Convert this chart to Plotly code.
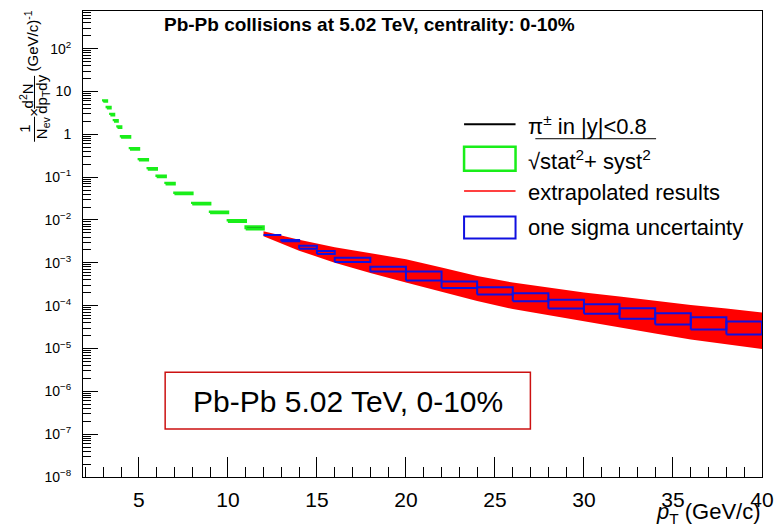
import plotly.graph_objects as go

# ---------------- data ----------------
meas_pt_lo = [3.0, 3.2, 3.4, 3.6, 3.8, 4.0, 4.5, 5.0, 5.5, 6.0, 6.5, 7.0, 8.0, 9.0, 10.0, 11.0]
meas_pt_hi = [3.2, 3.4, 3.6, 3.8, 4.0, 4.5, 5.0, 5.5, 6.0, 6.5, 7.0, 8.0, 9.0, 10.0, 11.0, 12.0]
meas_yield = [6.0, 4.2, 2.9, 2.07, 1.48, 0.87, 0.46, 0.255, 0.157, 0.104, 0.071,
              0.0417, 0.0242, 0.0150, 0.0095, 0.00655]
meas_relerr = [0.03, 0.03, 0.03, 0.03, 0.03, 0.03, 0.03, 0.03, 0.03, 0.03, 0.03,
               0.03, 0.03, 0.03, 0.035, 0.075]

band_pt = [12, 14, 16, 18, 20, 22, 24, 26, 28, 30, 32, 34, 36, 38, 40]
band_upper = [5.48e-3, 3.47e-3, 2.32e-3, 1.68e-3, 1.22e-3, 7.73e-4, 4.90e-4, 3.45e-4,
              2.64e-4, 2.04e-4, 1.63e-4, 1.28e-4, 1.03e-4, 8.55e-5, 6.90e-5]
band_lower = [4.19e-3, 1.92e-3, 1.01e-3, 5.75e-4, 3.45e-4, 2.07e-4, 1.28e-4, 8.33e-5,
              5.87e-5, 4.30e-5, 3.09e-5, 2.24e-5, 1.62e-5, 1.24e-5, 9.73e-6]

sigma_pt_lo = [12, 13, 14, 15, 16, 18, 20, 22, 24, 26, 28, 30, 32, 34, 36, 38]
sigma_pt_hi = [13, 14, 15, 16, 18, 20, 22, 24, 26, 28, 30, 32, 34, 36, 38, 40]
sigma_lower = [4.47e-3, 3.17e-3, 2.14e-3, 1.61e-3, 1.05e-3, 6.24e-4, 3.85e-4, 2.60e-4,
               1.82e-4, 1.27e-4, 8.55e-5, 6.44e-5, 4.92e-5, 3.62e-5, 2.77e-5, 2.12e-5]
sigma_upper = [4.61e-3, 3.42e-3, 2.52e-3, 1.89e-3, 1.32e-3, 8.15e-4, 6.24e-4, 3.65e-4,
               2.69e-4, 1.95e-4, 1.37e-4, 1.08e-4, 8.69e-5, 6.65e-5, 5.37e-5, 4.26e-5]

x_tick_vals = [5, 10, 15, 20, 25, 30, 35, 40]
y_tick_vals = [1e-8, 1e-7, 1e-6, 1e-5, 1e-4, 1e-3, 1e-2, 1e-1, 1, 10, 100]
y_tick_text = ["10<sup>−8</sup>", "10<sup>−7</sup>", "10<sup>−6</sup>", "10<sup>−5</sup>",
               "10<sup>−4</sup>", "10<sup>−3</sup>", "10<sup>−2</sup>", "10<sup>−1</sup>",
               "1", "10", "10<sup>2</sup>"]

title_text = "Pb-Pb collisions at 5.02 TeV, centrality: 0-10%"
box_text = "Pb-Pb 5.02 TeV, 0-10%"
legend_labels = ["π<sup>±</sup> in |y|&lt;0.8", "√stat<sup>2</sup>+ syst<sup>2</sup>",
                 "extrapolated results", "one sigma uncertainty"]

# ---------------- layout helpers ----------------
W, H = 784, 528
ML, MR, MT, MB = 83, 15, 10, 51
PW, PH = W - ML - MR, H - MT - MB
FONT = "Liberation Sans, Arial, sans-serif"


def px(x):
    return (x - ML) / PW


def py(y):
    return 1 - (y - MT) / PH


def rects(x0s, x1s, y0s, y1s):
    xs, ys = [], []
    for a, b, c, d in zip(x0s, x1s, y0s, y1s):
        xs += [a, b, b, a, a, None]
        ys += [c, c, d, d, c, None]
    return xs, ys


fig = go.Figure()

# red extrapolated band
fig.add_trace(go.Scatter(
    x=band_pt + band_pt[::-1], y=band_upper + band_lower[::-1],
    fill="toself", fillcolor="#ff0000", mode="lines", line=dict(width=0, color="#ff0000"),
    hoverinfo="skip", showlegend=False))

# black data lines (horizontal bin lines)
bx, by = [], []
for a, b, v in zip(meas_pt_lo, meas_pt_hi, meas_yield):
    bx += [a, b, None]
    by += [v, v, None]
fig.add_trace(go.Scatter(x=bx, y=by, mode="lines", line=dict(color="black", width=1.5),
                         showlegend=False, hoverinfo="skip"))

# green uncertainty boxes
gx, gy = rects(meas_pt_lo, meas_pt_hi,
               [v * (1 - e) for v, e in zip(meas_yield, meas_relerr)],
               [v * (1 + e) for v, e in zip(meas_yield, meas_relerr)])
fig.add_trace(go.Scatter(x=gx, y=gy, mode="lines", line=dict(color="#19ee19", width=2.6),
                         showlegend=False, hoverinfo="skip"))

# blue one sigma boxes
sx, sy = rects(sigma_pt_lo, sigma_pt_hi, sigma_lower, sigma_upper)
fig.add_trace(go.Scatter(x=sx, y=sy, mode="lines", line=dict(color="#1010e0", width=2),
                         showlegend=False, hoverinfo="skip"))

# minor tick positions for log axis
y_minor = []
for k in range(-8, 3):
    for m in range(2, 10):
        y_minor.append(m * 10.0 ** k)

fig.update_layout(
    width=W, height=H, margin=dict(l=ML, r=MR, t=MT, b=MB),
    paper_bgcolor="white", plot_bgcolor="white",
    font=dict(family=FONT, color="black"),
    showlegend=False,
    xaxis=dict(range=[1.86, 40], tickmode="array", tickvals=x_tick_vals,
               ticks="inside", ticklen=20, tickwidth=1, tickcolor="black",
               tickfont=dict(size=21, family=FONT), ticklabelstandoff=4,
               showline=True, linecolor="black", linewidth=1, mirror=True,
               showgrid=False, zeroline=False,
               minor=dict(ticks="inside", ticklen=10, tickwidth=1, tickcolor="black",
                          dtick=1, tick0=0, showgrid=False)),
    yaxis=dict(type="log", range=[-8, 2.879], tickmode="array", tickvals=y_tick_vals,
               ticktext=y_tick_text, ticks="inside", ticklen=15, tickwidth=1,
               tickcolor="black", tickfont=dict(size=14, family=FONT),
               ticklabelstandoff=8,
               showline=True, linecolor="black", linewidth=1, mirror=True,
               showgrid=False, zeroline=False,
               minor=dict(ticks="inside", ticklen=8, tickwidth=1, tickcolor="black",
                          tickmode="array", tickvals=y_minor, showgrid=False)),
)

shapes = []
annots = []

# title
annots.append(dict(text="<b>" + title_text + "</b>", x=px(163), y=py(24), xref="paper",
                   yref="paper", xanchor="left", yanchor="middle", showarrow=False,
                   font=dict(size=19, family=FONT)))

# boxed label
shapes.append(dict(type="rect", xref="paper", yref="paper", x0=px(166), x1=px(535),
                   y0=py(372), y1=py(429), line=dict(color="#cc1111", width=1.5)))
annots.append(dict(text=box_text, x=px(350.5), y=py(401), xref="paper", yref="paper",
                   xanchor="center", yanchor="middle", showarrow=False,
                   font=dict(size=30, family=FONT)))

# legend
shapes.append(dict(type="line", xref="paper", yref="paper", x0=px(468), x1=px(520),
                   y0=py(123.5), y1=py(123.5), line=dict(color="black", width=2)))
shapes.append(dict(type="rect", xref="paper", yref="paper", x0=px(468), x1=px(520),
                   y0=py(146), y1=py(170), line=dict(color="#19ee19", width=2.5)))
shapes.append(dict(type="line", xref="paper", yref="paper", x0=px(468), x1=px(520),
                   y0=py(190.5), y1=py(190.5), line=dict(color="#ff0000", width=1.5)))
shapes.append(dict(type="rect", xref="paper", yref="paper", x0=px(468), x1=px(520),
                   y0=py(216), y1=py(238), line=dict(color="#1010e0", width=2)))
for lab, yc in zip(legend_labels, [124, 159, 192, 227]):
    annots.append(dict(text=lab, x=px(531), y=py(yc), xref="paper", yref="paper",
                       xanchor="left", yanchor="middle", showarrow=False,
                       font=dict(size=22, family=FONT)))
# overline of the square root
shapes.append(dict(type="line", xref="paper", yref="paper", x0=px(540), x1=px(662),
                   y0=py(138), y1=py(138), line=dict(color="black", width=1)))

# x axis title
annots.append(dict(text="<i>p</i><sub>T</sub> (GeV/c)", x=px(770), y=py(497),
                   xref="paper", yref="paper", xanchor="right", yanchor="top",
                   showarrow=False, font=dict(size=22, family=FONT)))

# y axis title (ROOT-like fractions, rotated)
ypieces = [("1", 24.5, 128), ("N<sub>ev</sub>", 42, 127), ("×", 33.5, 112),
           ("d<sup>2</sup>N", 26, 95), ("dp<sub>T</sub>dy", 42.5, 93),
           ("(GeV/c)<sup>-1</sup>", 31, 40)]
for t, xx, yy in ypieces:
    annots.append(dict(text=t, x=px(xx), y=py(yy), xref="paper", yref="paper",
                       xanchor="center", yanchor="middle", textangle=-90,
                       showarrow=False, font=dict(size=15, family=FONT)))
shapes.append(dict(type="line", xref="paper", yref="paper", x0=px(34), x1=px(34),
                   y0=py(116), y1=py(141), line=dict(color="black", width=1)))
shapes.append(dict(type="line", xref="paper", yref="paper", x0=px(34), x1=px(34),
                   y0=py(75), y1=py(108), line=dict(color="black", width=1)))

fig.update_layout(shapes=shapes, annotations=annots)
fig.write_html("out.html")
